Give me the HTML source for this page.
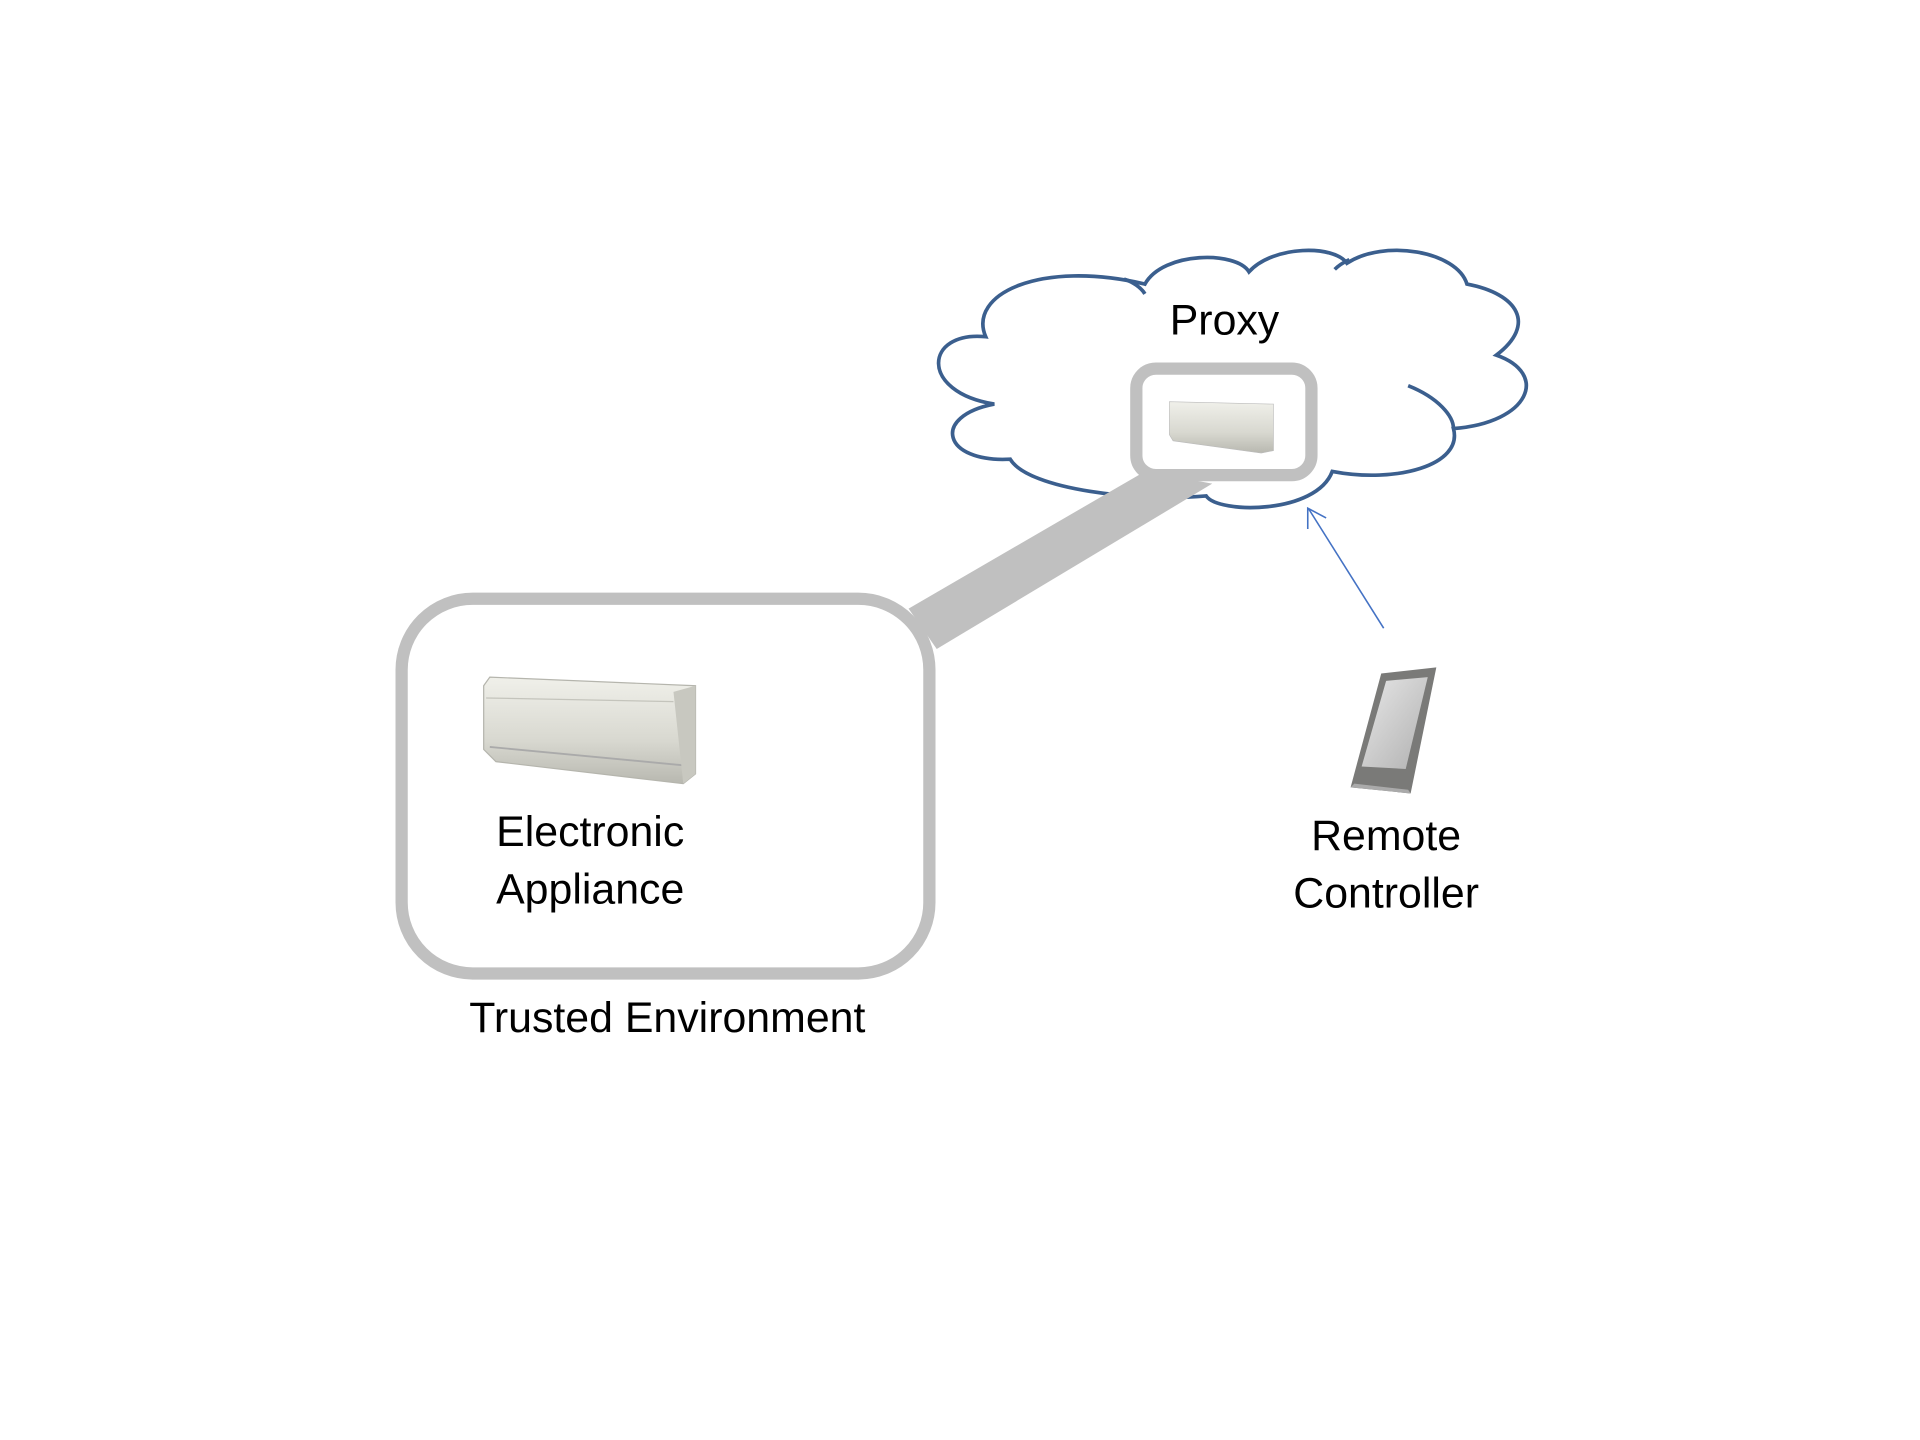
<!DOCTYPE html>
<html><head><meta charset="utf-8"><style>
html,body{margin:0;padding:0;background:#fff;}
svg{display:block;}
text{font-family:"Liberation Sans",sans-serif;fill:#000;}
</style></head><body>
<svg width="1920" height="1440" viewBox="0 0 1568 1176" xmlns="http://www.w3.org/2000/svg">
<defs>
<linearGradient id="ac" x1="0" y1="0" x2="0" y2="1">
<stop offset="0" stop-color="#f0f0ea"/><stop offset="0.6" stop-color="#d8d8d0"/><stop offset="1" stop-color="#b8b8b0"/>
</linearGradient>
<linearGradient id="scr" x1="0" y1="0" x2="1" y2="1">
<stop offset="0" stop-color="#e8e8e8"/><stop offset="1" stop-color="#b0b0b0"/>
</linearGradient>
</defs>
<path d="M805,275 C790,240 850,212 935,232 C950,205 1010,205 1020,222 C1040,200 1090,200 1100,215 C1130,195 1190,205 1198,232 C1240,240 1255,265 1222,290 C1265,305 1250,345 1187,350 C1195,380 1140,395 1088,385 C1075,420 995,420 985,405 C930,410 840,400 825,375 C770,378 760,340 812,330 C750,320 755,270 805,275 Z" fill="#fff" stroke="#3b5f8e" stroke-width="3"/>
<path d="M1150,315 C1175,325 1187,340 1187,350" fill="none" stroke="#3b5f8e" stroke-width="3"/>
<path d="M918,228 C925,230 932,235 935,240" fill="none" stroke="#3b5f8e" stroke-width="3"/>
<path d="M1090,220 C1095,215 1100,213 1102,212" fill="none" stroke="#3b5f8e" stroke-width="3"/>
<polygon points="742,497 765,530 990,395 935,385" fill="#c0c0c0"/>
<rect x="328" y="489" width="431" height="306" rx="58" fill="#fff" stroke="#c0c0c0" stroke-width="10"/>
<rect x="928" y="301" width="143" height="87" rx="16" fill="#fff" stroke="#c0c0c0" stroke-width="10"/>
<polygon points="955,328 1040,330 1040,368 1030,370 958,360 955,355" fill="url(#ac)" stroke="#bbb" stroke-width="0.5"/>
<polygon points="400,553 568,560 568,632 558,640 405,622 395,612 395,560" fill="url(#ac)" stroke="#b5b5ad" stroke-width="1"/>
<line x1="397" y1="570" x2="550" y2="573" stroke="#c4c4bc" stroke-width="1"/>
<line x1="400" y1="610" x2="558" y2="625" stroke="#aaa" stroke-width="1.5"/>
<polygon points="550,565 568,560 568,632 558,640" fill="#c8c8c0"/>
<line x1="1130" y1="513" x2="1069" y2="416" stroke="#4472c4" stroke-width="1.3"/>
<polyline points="1068,432 1068,415 1083,423" fill="none" stroke="#4472c4" stroke-width="1.3"/>
<polygon points="1128,550 1173,545 1152,648 1103,643" fill="#7a7a78"/>
<polygon points="1132,556 1166,553 1148,628 1112,626" fill="url(#scr)"/>
<polygon points="1103,643 1152,648 1150,645 1106,640" fill="#aaa"/>
<text x="1000" y="273" font-size="35" text-anchor="middle">Proxy</text>
<text x="482" y="691" font-size="35" text-anchor="middle">Electronic</text>
<text x="482" y="738" font-size="35" text-anchor="middle">Appliance</text>
<text x="545" y="843" font-size="35" text-anchor="middle">Trusted Environment</text>
<text x="1132" y="694" font-size="35" text-anchor="middle">Remote</text>
<text x="1132" y="741" font-size="35" text-anchor="middle">Controller</text>
</svg>
</body></html>
